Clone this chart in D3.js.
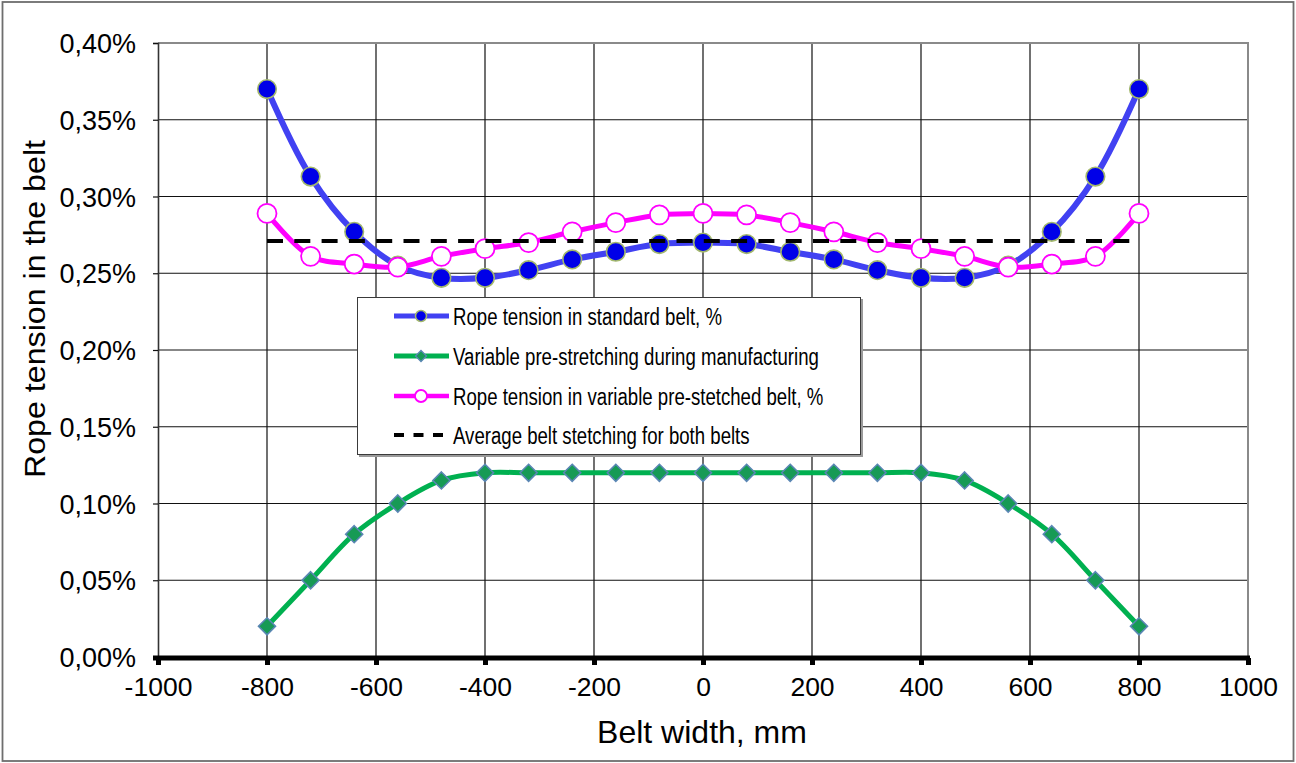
<!DOCTYPE html>
<html>
<head>
<meta charset="utf-8">
<script src="https://cdn.jsdelivr.net/npm/d3@7"></script>
<style>
  html, body { margin: 0; padding: 0; background: #fff; }
  svg { display: block; }
  text { font-family: "Liberation Sans", Arial, sans-serif; fill: #000; }
</style>
</head>
<body>
<svg id="chart" width="1296" height="763"></svg>
<script>
// ---- data ----
const beltX = [-800, -720, -640, -560, -480, -400, -320, -240, -160, -80, 0, 80, 160, 240, 320, 400, 480, 560, 640, 720, 800];
const standardBelt = [0.370, 0.313, 0.277, 0.255, 0.247, 0.247, 0.252, 0.259, 0.264, 0.269, 0.270, 0.269, 0.264, 0.259, 0.252, 0.247, 0.247, 0.255, 0.277, 0.313, 0.370];
const preStretching = [0.020, 0.050, 0.080, 0.100, 0.115, 0.120, 0.120, 0.120, 0.120, 0.120, 0.120, 0.120, 0.120, 0.120, 0.120, 0.120, 0.115, 0.100, 0.080, 0.050, 0.020];
const preStretchedBelt = [0.289, 0.261, 0.256, 0.254, 0.261, 0.266, 0.270, 0.277, 0.283, 0.288, 0.289, 0.288, 0.283, 0.277, 0.270, 0.266, 0.261, 0.254, 0.256, 0.261, 0.289];
const avgX = [-800, 800];
const avgStretching = [0.271, 0.271];
const xTicks = [-1000, -800, -600, -400, -200, 0, 200, 400, 600, 800, 1000];
const yTicks = [0.00, 0.05, 0.10, 0.15, 0.20, 0.25, 0.30, 0.35, 0.40];
const seriesNames = [
  "Rope tension in standard belt, %",
  "Variable pre-stretching during manufacturing",
  "Rope tension in variable pre-stetched belt, %",
  "Average belt stetching for both belts"
];
const xTitle = "Belt width, mm";
const yTitle = "Rope tension in the belt";

// ---- layout ----
const svg = d3.select("#chart");
const L = 158, R = 1248, T = 43, B = 657;
const x = d3.scaleLinear().domain([-1000, 1000]).range([L, R]);
const y = d3.scaleLinear().domain([0, 0.40]).range([B, T]);
const fmtY = d => d.toFixed(2).replace(".", ",") + "%";

// outer frame
svg.append("rect").attr("x", 2.5).attr("y", 2).attr("width", 1291).attr("height", 759)
  .attr("fill", "#fff").attr("stroke", "#6e6e6e").attr("stroke-width", 1.8);

// grid
const grid = svg.append("g");
grid.selectAll("line.h").data(yTicks.filter(t => t > 0 && t < 0.40)).join("line")
  .attr("x1", L).attr("x2", R).attr("y1", d => y(d)).attr("y2", d => y(d))
  .attr("stroke", "#111").attr("stroke-width", 1.2);
grid.selectAll("line.v").data(xTicks.filter(t => t > -1000 && t < 1000)).join("line")
  .attr("y1", T).attr("y2", B).attr("x1", d => x(d)).attr("x2", d => x(d))
  .attr("stroke", "#111").attr("stroke-width", 1.2);
// plot border (top/right gray)
svg.append("path").attr("d", `M${L},${T}H${R}V${B}`).attr("fill", "none")
  .attr("stroke", "#8a8a8a").attr("stroke-width", 2);

// y axis
const yAxis = svg.append("g").attr("transform", `translate(${L},0)`)
  .call(d3.axisLeft(y).tickValues(yTicks).tickFormat(fmtY).tickSize(5).tickPadding(17));
yAxis.select(".domain").attr("stroke", "#333").attr("stroke-width", 1.6);
yAxis.selectAll(".tick line").attr("stroke", "#111").attr("stroke-width", 1.2);
yAxis.selectAll(".tick text").attr("font-size", 27).attr("font-family", "Liberation Sans, Arial, sans-serif")
  .attr("fill", "#111").attr("dy", "0.36em");

// x axis
const xAxis = svg.append("g").attr("transform", `translate(0,${B + 1})`)
  .call(d3.axisBottom(x).tickValues(xTicks).tickFormat(d => d).tickSize(7).tickPadding(12));
xAxis.select(".domain").attr("d", `M${L - 5},0H${R + 2}`).attr("stroke", "#000").attr("stroke-width", 5);
xAxis.selectAll(".tick line").attr("stroke", "#000").attr("stroke-width", 5);
xAxis.selectAll(".tick text").attr("font-size", 26.5).attr("font-family", "Liberation Sans, Arial, sans-serif")
  .attr("fill", "#111");

// axis titles
svg.append("text").attr("x", 702).attr("y", 743).attr("text-anchor", "middle")
  .attr("font-size", 32).attr("fill", "#111").text(xTitle);
svg.append("text").attr("transform", "translate(45,309) rotate(-90)").attr("text-anchor", "middle")
  .attr("font-size", 30).attr("fill", "#111").attr("textLength", 338).attr("lengthAdjust", "spacingAndGlyphs")
  .text(yTitle);

// series
const smooth = d3.line().x(d => x(d[0])).y(d => y(d[1])).curve(d3.curveCatmullRom.alpha(0.5));
const zip = (xs, ys) => xs.map((v, i) => [v, ys[i]]);
const sBlue = zip(beltX, standardBelt);
const sGreen = zip(beltX, preStretching);
const sPink = zip(beltX, preStretchedBelt);
const sAvg = zip(avgX, avgStretching);

const style = {
  blue: { line: "#4141f2", width: 6, fill: "#0000e8", stroke: "#a3b86c" },
  green: { line: "#00b050", width: 5, fill: "#179a55", stroke: "#5a86b4" },
  pink: { line: "#ff00ff", width: 5, fill: "#ffffff", stroke: "#ff00ff" }
};

// blue
svg.append("path").attr("d", smooth(sBlue)).attr("fill", "none")
  .attr("stroke", style.blue.line).attr("stroke-width", style.blue.width);
svg.append("g").selectAll("circle").data(sBlue).join("circle")
  .attr("cx", d => x(d[0])).attr("cy", d => y(d[1])).attr("r", 9.3)
  .attr("fill", style.blue.fill).attr("stroke", style.blue.stroke).attr("stroke-width", 1.6);

// green
svg.append("path").attr("d", smooth(sGreen)).attr("fill", "none")
  .attr("stroke", style.green.line).attr("stroke-width", style.green.width);
const diamond = s => `M0,${-s}L${s},0L0,${s}L${-s},0Z`;
svg.append("g").selectAll("path").data(sGreen).join("path")
  .attr("transform", d => `translate(${x(d[0])},${y(d[1])})`).attr("d", diamond(8.5))
  .attr("fill", style.green.fill).attr("stroke", style.green.stroke).attr("stroke-width", 1.6);

// pink
svg.append("path").attr("d", smooth(sPink)).attr("fill", "none")
  .attr("stroke", style.pink.line).attr("stroke-width", style.pink.width);
svg.append("g").selectAll("circle").data(sPink).join("circle")
  .attr("cx", d => x(d[0])).attr("cy", d => y(d[1])).attr("r", 9.5)
  .attr("fill", style.pink.fill).attr("stroke", style.pink.stroke).attr("stroke-width", 1.8);

// average dashed
svg.append("path").attr("d", d3.line().x(d => x(d[0])).y(d => y(d[1]))(sAvg)).attr("fill", "none")
  .attr("stroke", "#000").attr("stroke-width", 4).attr("stroke-dasharray", "16,11.3");

// legend
const lg = svg.append("g");
lg.append("rect").attr("x", 359).attr("y", 299).attr("width", 504).attr("height", 158).attr("fill", "#9a9a9a");
lg.append("rect").attr("x", 357.5).attr("y", 297.5).attr("width", 503).attr("height", 157)
  .attr("fill", "#fff").attr("stroke", "#3a3a3a").attr("stroke-width", 1);
const rowY = [316, 356, 396, 435];
const lx1 = 394, lx2 = 449, lxm = 421;
// row 1
lg.append("line").attr("x1", lx1).attr("x2", lx2).attr("y1", rowY[0]).attr("y2", rowY[0])
  .attr("stroke", style.blue.line).attr("stroke-width", 5);
lg.append("circle").attr("cx", lxm).attr("cy", rowY[0]).attr("r", 5.5)
  .attr("fill", style.blue.fill).attr("stroke", style.blue.stroke).attr("stroke-width", 1.5);
// row 2
lg.append("line").attr("x1", lx1).attr("x2", lx2).attr("y1", rowY[1]).attr("y2", rowY[1])
  .attr("stroke", style.green.line).attr("stroke-width", 5);
lg.append("path").attr("transform", `translate(${lxm},${rowY[1]})`).attr("d", diamond(5.5))
  .attr("fill", style.green.fill).attr("stroke", style.green.stroke).attr("stroke-width", 1.3);
// row 3
lg.append("line").attr("x1", lx1).attr("x2", lx2).attr("y1", rowY[2]).attr("y2", rowY[2])
  .attr("stroke", style.pink.line).attr("stroke-width", 4.5);
lg.append("circle").attr("cx", lxm).attr("cy", rowY[2]).attr("r", 6)
  .attr("fill", style.pink.fill).attr("stroke", style.pink.stroke).attr("stroke-width", 1.8);
// row 4
lg.append("line").attr("x1", lx1).attr("x2", lx2).attr("y1", rowY[3]).attr("y2", rowY[3])
  .attr("stroke", "#000").attr("stroke-width", 4).attr("stroke-dasharray", "10,9.5");
// texts
seriesNames.forEach((name, i) => {
  lg.append("text").attr("transform", `translate(453,${rowY[i] + 8.5}) scale(0.76,1)`)
    .attr("font-size", 24.5).attr("fill", "#111").text(name);
});
</script>
</body>
</html>
